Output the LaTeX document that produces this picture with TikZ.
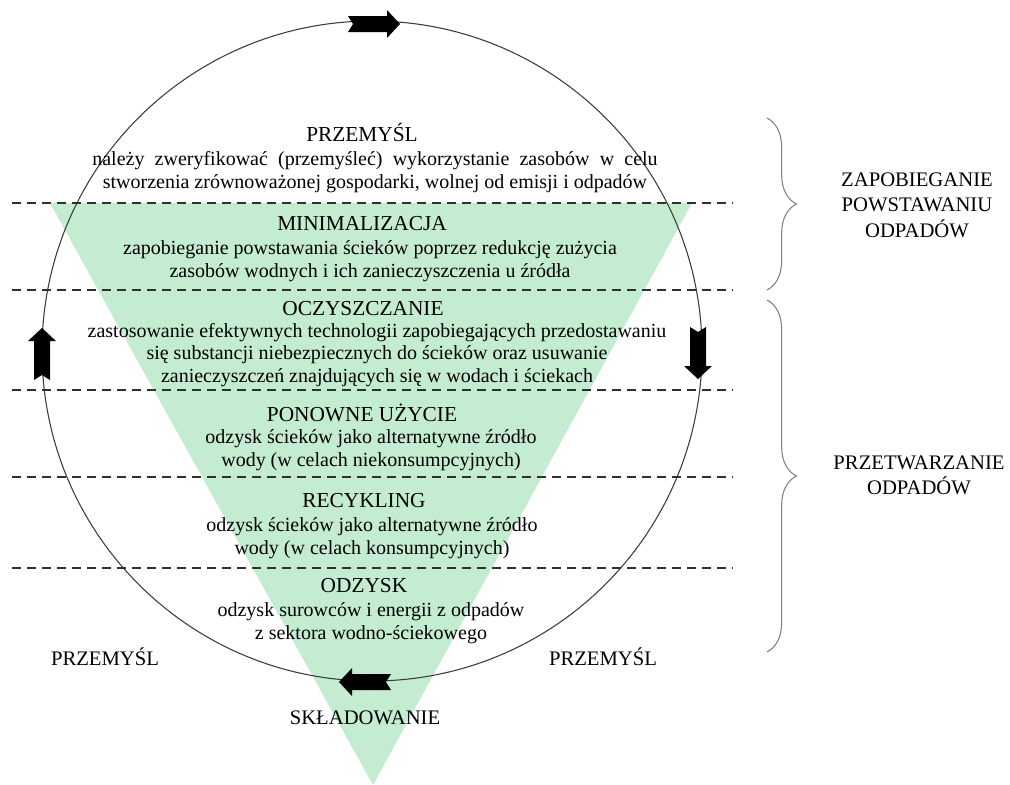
\documentclass[tikz,border=0pt]{standalone}
\usepackage{fontspec}
\setmainfont{Liberation Serif}
\usetikzlibrary{decorations.pathreplacing}

\definecolor{mint}{RGB}{196,236,208}
\definecolor{inkgray}{RGB}{60,60,60}

\tikzset{
  level/.style={font=\fontsize{16}{19}\selectfont, inner sep=0pt, anchor=base},
  note/.style={font=\fontsize{15}{17}\selectfont, align=center, inner sep=0pt},
  side/.style={font=\fontsize{15.5}{19}\selectfont, align=center, inner sep=0pt},
  sep/.style={draw=inkgray!80!black, line width=1.2pt, dash pattern=on 6.75pt off 4.5pt},
  bracket/.style={draw=gray, line width=0.8pt, decorate,
    decoration={brace, amplitude=22pt}},
  flowarrow/.pic={
    \fill (-26,-8) -- (13,-8) -- (13,-14) -- (26,0) -- (13,14) -- (13,8)
      -- (-26,8) -- (-21,0) -- cycle;
  }
}

\begin{document}
\begin{tikzpicture}[x=0.75pt, y=-0.75pt]
  \useasboundingbox (0,0) rectangle (1010,785);

  % inverted pyramid
  \fill [mint] (50,203) -- (692,203) -- (373,785) -- cycle;

  % cycle
  \coordinate (hub) at (372,351);
  \draw [inkgray, line width=0.8pt] (hub) circle [radius=330];

  % level borders
  \foreach \yy [count=\i] in {203,290,390,477,568} {
    \coordinate (l\i) at (12,\yy);
    \coordinate (r\i) at (733,\yy);
    \draw [sep] (l\i) -- (r\i);
  }

  % levels
  \node [level] (przT) at (362,141) {PRZEMYŚL};
  \node [note] (przB) at (375,172) {\hbox to 424pt{należy zweryfikować (przemyśleć) wykorzystanie zasobów w celu}\\
    stworzenia zrównoważonej gospodarki, wolnej od emisji i odpadów};

  \node [level] (minT) at (362,230) {MINIMALIZACJA};
  \node [note] (minB) at (370,261) {zapobieganie powstawania ścieków poprzez redukcję zużycia\\
    zasobów wodnych i ich zanieczyszczenia u źródła};

  \node [level] (oczT) at (363,315) {OCZYSZCZANIE};
  \node [note] (oczB) at (377,355) {zastosowanie efektywnych technologii zapobiegających przedostawaniu\\
    się substancji niebezpiecznych do ścieków oraz usuwanie\\
    zanieczyszczeń znajdujących się w wodach i ściekach};

  \node [level] (ponT) at (362,421) {PONOWNE UŻYCIE};
  \node [note] (ponB) at (371,450) {odzysk ścieków jako alternatywne źródło\\
    wody (w celach niekonsumpcyjnych)};

  \node [level] (recT) at (364,507) {RECYKLING};
  \node [note] (recB) at (372,538) {odzysk ścieków jako alternatywne źródło\\
    wody (w celach konsumpcyjnych)};

  \node [level] (odzT) at (364,592) {ODZYSK};
  \node [note] (odzB) at (371,623) {odzysk surowców i energii z odpadów\\
    z sektora wodno-ściekowego};

  \node [side] (przL) at (105,657) {PRZEMYŚL};
  \node [side] (przR) at (603,657) {PRZEMYŚL};
  \node [side] (skl) at (365,718) {SKŁADOWANIE};

  % flow direction
  \pic at (374,24) {flowarrow};
  \pic [rotate=-90] at (698,353) {flowarrow};
  \pic [rotate=180] at (365,682) {flowarrow};
  \pic [rotate=90] at (42,354) {flowarrow};

  % groups
  \coordinate (zapA) at (767,118);
  \coordinate (zapB) at (767,290);
  \coordinate (przA) at (767,300);
  \coordinate (przZ) at (767,652);
  \draw [bracket] (zapA) -- (zapB);
  \draw [bracket] (przA) -- (przZ);
  \node [side] (zap) at (917,205) {ZAPOBIEGANIE\\POWSTAWANIU\\ODPADÓW};
  \node [side] (prz) at (919,475) {PRZETWARZANIE\\ODPADÓW};
\end{tikzpicture}
\end{document}
